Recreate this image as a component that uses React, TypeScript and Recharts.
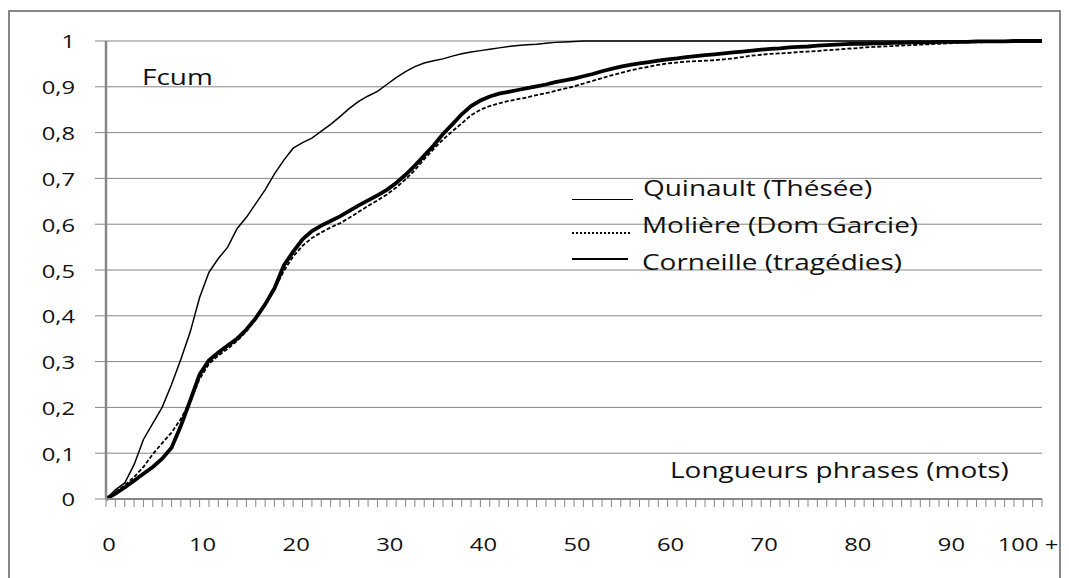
import { LineChart, Line, XAxis, YAxis, CartesianGrid } from "recharts";

// sentence length (words), 0 .. 100+
const LENGTHS = Array.from({ length: 101 }, (_, i) => i);

const QUINAULT = [
  0, 0.02, 0.035, 0.075, 0.13, 0.165, 0.2, 0.25, 0.305, 0.365,
  0.44, 0.495, 0.525, 0.55, 0.59, 0.615, 0.645, 0.675, 0.71, 0.74,
  0.766, 0.778, 0.788, 0.803, 0.818, 0.835, 0.853, 0.868, 0.88, 0.89,
  0.905, 0.92, 0.933, 0.944, 0.952, 0.957, 0.961, 0.967, 0.972, 0.976,
  0.979, 0.982, 0.985, 0.988, 0.99, 0.992, 0.993, 0.995, 0.997, 0.998,
  0.999, 1, 1, 1, 1, 1, 1, 1, 1, 1,
  1, 1, 1, 1, 1, 1, 1, 1, 1, 1,
  1, 1, 1, 1, 1, 1, 1, 1, 1, 1,
  1, 1, 1, 1, 1, 1, 1, 1, 1, 1,
  1, 1, 1, 1, 1, 1, 1, 1, 1, 1,
  1,
];

const MOLIERE = [
  0, 0.015, 0.03, 0.048, 0.07, 0.098, 0.122, 0.145, 0.175, 0.213,
  0.262, 0.295, 0.313, 0.328, 0.345, 0.366, 0.392, 0.422, 0.458, 0.498,
  0.53, 0.553, 0.57, 0.582, 0.593, 0.602, 0.614, 0.627, 0.64, 0.652,
  0.665, 0.68, 0.698, 0.718, 0.742, 0.764, 0.785, 0.803, 0.82, 0.838,
  0.85, 0.858, 0.864, 0.869, 0.873, 0.877, 0.882, 0.886, 0.891, 0.896,
  0.901, 0.907, 0.913, 0.919, 0.925, 0.93, 0.936, 0.94, 0.944, 0.948,
  0.951, 0.953, 0.955, 0.956, 0.957, 0.958, 0.96, 0.962, 0.965, 0.968,
  0.97, 0.972, 0.973, 0.974, 0.976, 0.977, 0.978, 0.98, 0.981, 0.983,
  0.984, 0.986, 0.987, 0.988, 0.989, 0.99, 0.991, 0.992, 0.993, 0.994,
  0.995, 0.996, 0.997, 0.997, 0.998, 0.998, 0.999, 0.999, 1, 1,
  1,
];

const CORNEILLE = [
  0, 0.012, 0.025, 0.04, 0.055, 0.07, 0.088, 0.112, 0.16, 0.215,
  0.272, 0.303, 0.32, 0.335, 0.35, 0.37, 0.395, 0.425, 0.46, 0.51,
  0.54, 0.567, 0.585, 0.597, 0.607, 0.617, 0.629, 0.641, 0.652, 0.663,
  0.675, 0.69, 0.708, 0.728, 0.75, 0.772, 0.797, 0.818, 0.84, 0.858,
  0.87, 0.879, 0.885, 0.889, 0.893, 0.897, 0.901, 0.905, 0.91, 0.914,
  0.918, 0.923, 0.928, 0.934, 0.939, 0.944, 0.948, 0.951, 0.954, 0.957,
  0.96, 0.962, 0.965, 0.967, 0.969, 0.971, 0.973, 0.975, 0.977, 0.979,
  0.981, 0.983, 0.984, 0.986, 0.987, 0.988, 0.99, 0.991, 0.992, 0.993,
  0.994, 0.994, 0.995, 0.995, 0.996, 0.996, 0.997, 0.997, 0.997, 0.998,
  0.998, 0.998, 0.998, 0.999, 0.999, 0.999, 0.999, 1, 1, 1,
  1,
];

const Y_TICKS = [0, 0.1, 0.2, 0.3, 0.4, 0.5, 0.6, 0.7, 0.8, 0.9, 1];

const data = LENGTHS.map((x, i) => ({
  x,
  quinault: QUINAULT[i],
  moliere: MOLIERE[i],
  corneille: CORNEILLE[i],
}));

const FONT = "'Open Sans', sans-serif";
const SX = 1.25; // text in the source is stretched horizontally
const SX_NOTE = 1.33;
const GRAY = "#878787";
const INK = "#111";

const stretch = (x: number, y: number) =>
  `translate(${x} ${y}) scale(${SX} 1) translate(${-x} ${-y})`;

const YTick = ({ x, y, payload }: any) => {
  const v = payload.value;
  const label = v === 0 || v === 1 ? String(v) : v.toFixed(1).replace(".", ",");
  return (
    <text x={x} y={y} textAnchor="end" dominantBaseline="central" fontFamily={FONT} fontSize={19} fill={INK} transform={stretch(x, y)}>
      {label}
    </text>
  );
};

const XTick = ({ x, y, payload }: any) => {
  const v = payload.value;
  if (v % 10 !== 0) return null;
  const label = v === 100 ? "100 +" : String(v);
  const cx = v === 100 ? x - 14 : x + 3;
  return (
    <text x={cx} y={y} textAnchor="middle" dominantBaseline="central" fontFamily={FONT} fontSize={19} fill={INK} transform={stretch(cx, y)}>
      {label}
    </text>
  );
};

const textStyle = (left: number, centerY: number): React.CSSProperties => ({
  position: "absolute",
  left,
  top: centerY - 12,
  lineHeight: "24px",
  fontFamily: FONT,
  fontSize: 21,
  color: INK,
  whiteSpace: "nowrap",
  transform: `scaleX(${SX_NOTE})`,
  transformOrigin: "left center",
});

export default function App() {
  return (
    <div
      style={{
        position: "relative",
        top: 2,
        width: 1053,
        height: 570,
        border: `2px solid ${GRAY}`,
        boxSizing: "border-box",
        background: "#fff",
      }}
    >
      <LineChart
        width={1049}
        height={566}
        data={data}
        margin={{ top: 29, right: 17, left: 36, bottom: 19 }}
        style={{ position: "absolute", left: 0, top: 0 }}
      >
        <CartesianGrid vertical={false} stroke={GRAY} strokeWidth={1} />
        <XAxis
          dataKey="x"
          type="category"
          interval={0}
          height={60}
          tick={<XTick />}
          tickSize={8}
          tickMargin={36}
          stroke={GRAY}
          strokeWidth={2}
          tickLine={{ stroke: GRAY, strokeWidth: 1 }}
        />
        <YAxis
          type="number"
          domain={[0, 1]}
          ticks={Y_TICKS}
          width={60}
          tick={<YTick />}
          tickSize={11}
          tickMargin={20}
          stroke={GRAY}
          strokeWidth={2.5}
          tickLine={{ stroke: GRAY, strokeWidth: 1 }}
        />
        <Line dataKey="corneille" type="linear" stroke="#000" strokeWidth={3.8} dot={false} isAnimationActive={false} />
        <Line dataKey="moliere" type="linear" stroke="#000" strokeWidth={1.8} strokeDasharray="4 2" dot={false} isAnimationActive={false} />
        <Line dataKey="quinault" type="linear" stroke="#000" strokeWidth={1.5} dot={false} isAnimationActive={false} />
      </LineChart>

      <div style={textStyle(132, 65)}>Fcum</div>
      <div style={textStyle(660, 458)}>Longueurs phrases (mots)</div>

      <div style={{ position: "absolute", left: 562, top: 187, width: 61, height: 0, borderTop: "1.5px solid #000" }} />
      <div style={textStyle(633, 176)}>Quinault (Thésée)</div>
      <div style={{ position: "absolute", left: 562, top: 220, width: 58, height: 0, borderTop: "2px dotted #000" }} />
      <div style={textStyle(632, 213)}>Molière (Dom Garcie)</div>
      <div style={{ position: "absolute", left: 562, top: 246, width: 56, height: 0, borderTop: "2.5px solid #000" }} />
      <div style={textStyle(632, 250)}>Corneille (tragédies)</div>
    </div>
  );
}
